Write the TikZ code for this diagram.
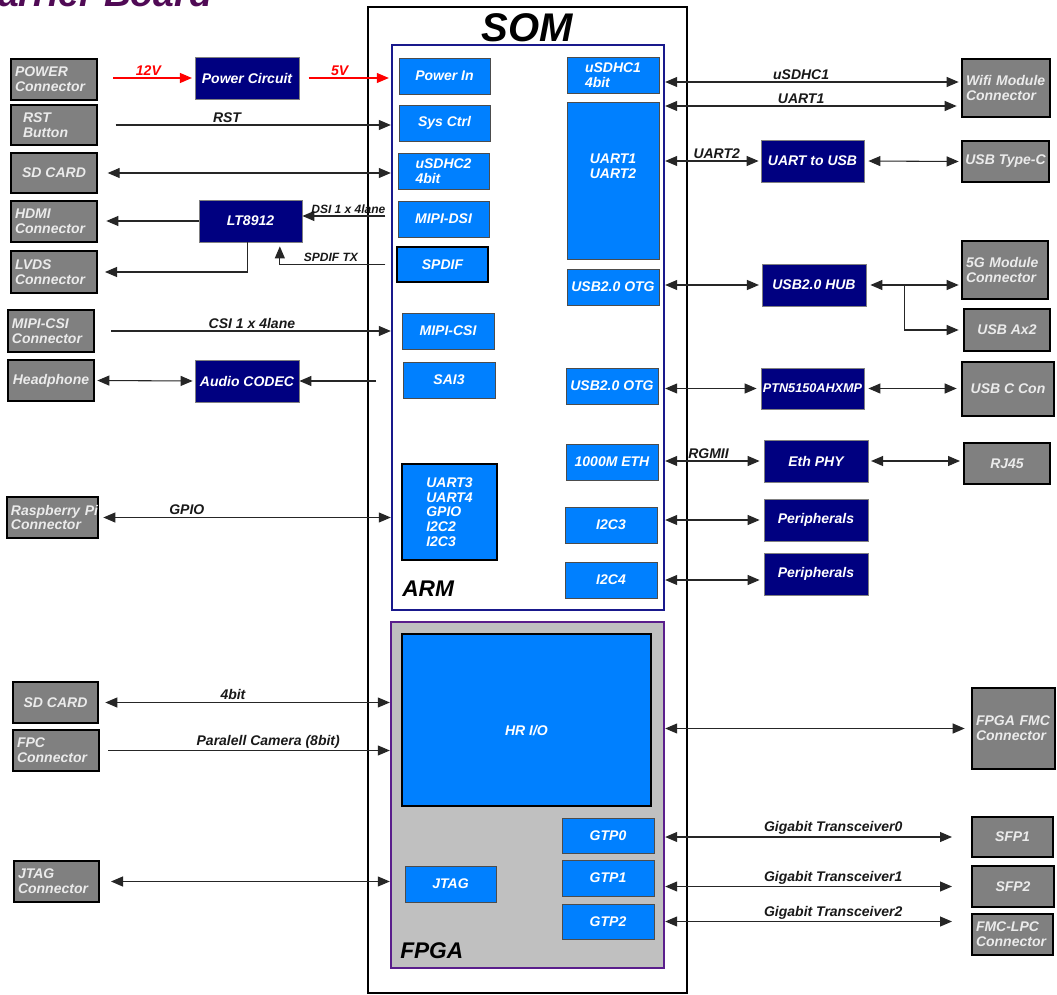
\documentclass[tikz,border=0pt]{standalone}
\usepackage{fontspec}
\setmainfont{Liberation Sans}
\usetikzlibrary{arrows.meta,calc}

\definecolor{navybox}{RGB}{0,0,128}
\definecolor{bluebox}{RGB}{0,128,255}
\definecolor{graybox}{RGB}{128,128,128}
\definecolor{fpgafill}{RGB}{192,192,192}
\definecolor{fpgaline}{RGB}{90,30,140}
\definecolor{armline}{RGB}{25,25,140}
\definecolor{titlecol}{RGB}{80,10,85}
\definecolor{graytext}{RGB}{235,235,235}

\newcommand\mybox[7]{%
  \pgfmathsetmacro\bxw{(#5-#3)*0.75}%
  \pgfmathsetmacro\bxh{(#6-#4)*0.75}%
  \node[minimum width=\bxw pt, minimum height=\bxh pt, #2] (#1) at ({(#3+#5)/2},{(#4+#6)/2}) {#7};}
\newcommand\myboxl[7]{%
  \pgfmathsetmacro\bxw{(#5-#3)*0.75}%
  \pgfmathsetmacro\bxh{(#6-#4)*0.75}%
  \pgfmathsetmacro\bxt{(#5-#3-8)*0.75}%
  \node[minimum width=\bxw pt, minimum height=\bxh pt, text width=\bxt pt, #2, align=left] (#1) at ({(#3+#5)/2},{(#4+#6)/2}) {#7};}

\tikzset{
  every node/.style={font=\bfseries\itshape\fontsize{10.5}{11}\selectfont, inner sep=0pt},
  somst/.style={draw=black, line width=2pt},
  armst/.style={draw=armline, line width=1.8pt},
  fpgast/.style={draw=fpgaline, line width=1.8pt, fill=fpgafill},
  gbox/.style={draw=black, line width=2pt, fill=graybox, text=graytext, align=center},
  nbox/.style={draw=gray, line width=0.6pt, fill=navybox, text=white, align=center},
  bbox/.style={draw=black!70, line width=0.6pt, fill=bluebox, text=white, align=left},
  bboxk/.style={bbox, draw=black, line width=2pt},
  conn/.style={draw=black!85, line width=0.8pt},
  tip/.style={},
  arr/.style={conn, -{Triangle[length=9pt,width=7.5pt]}},
  darr/.style={conn, {Triangle[length=9pt,width=7.5pt]}-{Triangle[length=9pt,width=7.5pt]}},
  redarr/.style={draw=red, line width=0.8pt, -{Triangle[length=9pt,width=7.5pt]}},
  lbl/.style={above, inner sep=1.5pt, text=black!90},
  lbls/.style={lbl, font=\bfseries\itshape\fontsize{9}{9}\selectfont},
}

\begin{document}
\begin{tikzpicture}[x=0.75pt,y=-0.75pt]
\useasboundingbox (0,0) rectangle (1057,995);
\clip (0,0) rectangle (1057,995);
\fill[white] (0,0) rectangle (1057,995);

\node[anchor=base west, text=titlecol, font=\bfseries\itshape\fontsize{28}{28}\selectfont] (title) at (-29,7) {Carrier Board};

% SOM, ARM, FPGA
\mybox{som}{somst}{368}{7}{687}{993}{}
\node[font=\bfseries\itshape\fontsize{30}{30}\selectfont] (somlbl) at (527,28) {SOM};
\mybox{arm}{armst}{392}{45}{664}{610}{}
\node[anchor=base west, font=\bfseries\itshape\fontsize{17}{17}\selectfont] (armlbl) at (402,596) {ARM};
\mybox{fpga}{fpgast}{391}{622}{664}{968}{}
\node[anchor=base west, font=\bfseries\itshape\fontsize{17}{17}\selectfont] (fpgalbl) at (400,958) {FPGA};

% ARM blocks
\mybox{pin}{bbox}{399}{58}{490}{94}{Power In}
\mybox{sys}{bbox}{399}{105}{490}{141}{Sys Ctrl}
\mybox{usd2}{bbox}{398}{153}{489}{189}{uSDHC2\\4bit}
\mybox{dsi}{bbox}{398}{201}{489}{237}{MIPI-DSI}
\mybox{spdif}{bboxk}{397}{247}{488}{282}{SPDIF}
\mybox{mcsi}{bbox}{402}{313}{494}{349}{MIPI-CSI}
\mybox{sai}{bbox}{403}{362}{495}{398}{SAI3}
\mybox{uart34}{bboxk}{402}{464}{497}{560}{UART3\\UART4\\GPIO\\I2C2\\I2C3}
\mybox{usd1}{bbox}{567}{57}{659}{93}{uSDHC1\\4bit}
\mybox{uart}{bbox, text depth=21pt}{567}{102}{659}{259}{UART1\\UART2}
\mybox{otg1}{bbox}{567}{269}{659}{305}{USB2.0 OTG}
\mybox{otg2}{bbox}{566}{368}{658}{404}{USB2.0 OTG}
\mybox{eth}{bbox}{566}{444}{658}{480}{1000M ETH}
\mybox{i2c3}{bbox}{565}{507}{657}{543}{I2C3}
\mybox{i2c4}{bbox}{565}{562}{657}{598}{I2C4}

% FPGA blocks
\mybox{hrio}{bboxk, text height=24pt}{402}{634}{651}{806}{HR I/O}
\mybox{gtp0}{bbox}{562}{818}{654}{853}{GTP0}
\mybox{gtp1}{bbox}{562}{860}{654}{896}{GTP1}
\mybox{gtp2}{bbox}{562}{904}{654}{939}{GTP2}
\mybox{jtag}{bbox}{405}{866}{496}{902}{JTAG}

% left connectors
\myboxl{pwr}{gbox}{11}{59}{97}{100}{POWER\\Connector}
\myboxl{rst}{gbox}{11}{105}{97}{145}{\hspace*{6pt}RST\\\hspace*{6pt}Button}
\mybox{sd1}{gbox}{11}{153}{97}{193}{SD CARD}
\myboxl{hdmi}{gbox}{11}{201}{97}{242}{HDMI\\Connector}
\myboxl{lvds}{gbox}{11}{251}{97}{293}{LVDS\\Connector}
\myboxl{csi}{gbox}{8}{310}{94}{352}{MIPI-CSI\\Connector}
\mybox{hp}{gbox}{8}{360}{94}{401}{Headphone}
\myboxl{rpi}{gbox}{7}{497}{98}{538}{\mbox{Raspberry Pi}\\Connector}
\mybox{sd2}{gbox}{13}{682}{98}{723}{SD CARD}
\myboxl{fpc}{gbox}{13}{730}{99}{771}{FPC\\Connector}
\myboxl{jc}{gbox}{14}{861}{99}{902}{JTAG\\Connector}

% navy chips
\mybox{pc}{nbox}{195}{57}{299}{99}{Power Circuit}
\mybox{lt}{nbox}{199}{200}{302}{242}{LT8912}
\mybox{ac}{nbox}{195}{360}{299}{402}{Audio CODEC}
\mybox{u2u}{nbox}{761}{140}{864}{182}{UART to USB}
\mybox{hub}{nbox}{762}{264}{866}{306}{USB2.0 HUB}
\mybox{ptn}{nbox, font=\bfseries\itshape\fontsize{9.5}{10}\selectfont}{761}{368}{864}{409}{PTN5150AHXMP}
\mybox{phy}{nbox}{764}{440}{868}{482}{Eth PHY}
\mybox{per1}{nbox}{764}{499}{868}{541}{Peripherals}
\mybox{per2}{nbox}{764}{553}{868}{595}{Peripherals}

% right connectors
\myboxl{wifi}{gbox}{962}{59}{1050}{117}{\mbox{Wifi Module}\\Connector}
\mybox{usbc}{gbox}{962}{141}{1049}{182}{USB Type-C}
\myboxl{g5}{gbox}{962}{241}{1048}{299}{\mbox{5G Module}\\Connector}
\mybox{usbax}{gbox}{964}{309}{1050}{351}{USB Ax2}
\mybox{usbcc}{gbox}{962}{362}{1054}{416}{USB C Con}
\mybox{rj}{gbox}{964}{443}{1050}{484}{RJ45}
\myboxl{fmc}{gbox}{972}{688}{1055}{769}{\mbox{FPGA FMC}\\Connector}
\mybox{sfp1}{gbox}{972}{817}{1053}{857}{SFP1}
\mybox{sfp2}{gbox}{972}{866}{1054}{907}{SFP2}
\myboxl{lpc}{gbox}{972}{914}{1053}{955}{FMC-LPC\\Connector}

% left side connectors
\draw[redarr, shorten <=11pt, shorten >=2pt] (pwr.east |- pc.west) -- (pc.west) node[lbl, pos=0.52, text=red]{12V};
\draw[redarr, shorten <=7pt, shorten >=1.5pt] (pc.east) -- (pc.east -| arm.west) node[lbl, pos=0.44, text=red]{5V};
\draw[arr, shorten <=13pt] (rst.east) -- (rst.east -| arm.west) node[lbl, pos=0.44]{RST};
\draw[darr, shorten <=7pt] (sd1.east) -- (sd1.east -| arm.west);
\coordinate (ltin) at ([yshift=3.75pt]lt.east);
\draw[arr, shorten <=4pt] (ltin -| arm.west) -- (ltin) node[lbls, pos=0.48]{DSI 1 x 4lane};
\draw[arr, shorten >=6pt] (lt.west) -- (lt.west -| hdmi.east);
\draw[arr, shorten >=5pt] ([xshift=-2.6pt]lt.south) |- (lvds.east);
\draw[arr, shorten <=4pt, shorten >=3pt] (arm.west |- spdif.west) -| ([xshift=22pt]lt.south) node[lbls, pos=0.27]{SPDIF TX};
\draw[arr, shorten <=12pt] (csi.east) -- (csi.east -| arm.west) node[lbl, pos=0.53]{CSI 1 x 4lane};
\draw[darr, shorten <=1.5pt, shorten >=1.5pt] (hp.east) -- (ac.west);
\draw[arr, shorten <=11pt] (ac.east -| arm.west) -- (ac.east);
\draw[darr, shorten <=3pt] (rpi.east) -- (rpi.east -| arm.west) node[lbl, pos=0.30]{GPIO};

% right side connectors
\coordinate (w1) at ([yshift=4.5pt]wifi.west);
\coordinate (w2) at ([yshift=-13.5pt]wifi.west);
\draw[darr, shorten >=1.5pt] (w1 -| arm.east) -- (w1) node[lbl, pos=0.46]{uSDHC1};
\draw[darr, shorten >=3pt] (w2 -| arm.east) -- (w2) node[lbl, pos=0.46]{UART1};
\draw[darr, shorten >=1.5pt] (u2u.west -| arm.east) -- (u2u.west) node[lbl, pos=0.54]{UART2};
\draw[darr, shorten <=3pt, shorten >=1.5pt] (u2u.east) -- (usbc.west);
\draw[darr, shorten >=2pt] (hub.west -| arm.east) -- (hub.west);
\draw[darr, shorten <=3pt, shorten >=1.5pt] (hub.east) -- (hub.east -| g5.west);
\coordinate (brc) at ($(hub.east)!0.4!(hub.east -| g5.west)$);
\draw[arr, shorten >=3pt] (brc) |- (usbax.west);
\draw[darr, shorten >=3pt] (ptn.west -| arm.east) -- (ptn.west);
\draw[darr, shorten <=3pt, shorten >=3pt] (ptn.east) -- (ptn.east -| usbcc.west);
\draw[darr, shorten >=3pt] (phy.west -| arm.east) -- (phy.west) node[lbl, pos=0.44]{RGMII};
\draw[darr, shorten <=2pt, shorten >=2pt] (phy.east) -- (phy.east -| rj.west);
\draw[darr, shorten >=3pt] (per1.west -| arm.east) -- (per1.west);
\draw[darr, shorten >=3pt] (i2c4.east -| arm.east) -- (i2c4.east -| per2.west);

% FPGA connectors
\draw[darr, shorten <=4.5pt] (sd2.east) -- (sd2.east -| fpga.west) node[lbl, pos=0.46]{4bit};
\draw[arr, shorten <=6pt] (fpc.east) -- (fpc.east -| fpga.west) node[lbl, pos=0.58]{Paralell Camera (8bit)};
\draw[darr, shorten <=8pt] (jc.east) -- (jc.east -| fpga.west);
\draw[darr, shorten >=4.5pt] (fmc.west -| fpga.east) -- (fmc.west);
\draw[darr, shorten >=14pt] (sfp1.west -| fpga.east) -- (sfp1.west) node[lbl, pos=0.55]{Gigabit Transceiver0};
\draw[darr, shorten >=14pt] (sfp2.west -| fpga.east) -- (sfp2.west) node[lbl, pos=0.55]{Gigabit Transceiver1};
\draw[darr, shorten >=14pt] (gtp2.east -| fpga.east) -- (gtp2.east -| lpc.west) node[lbl, pos=0.55]{Gigabit Transceiver2};
\end{tikzpicture}
\end{document}
